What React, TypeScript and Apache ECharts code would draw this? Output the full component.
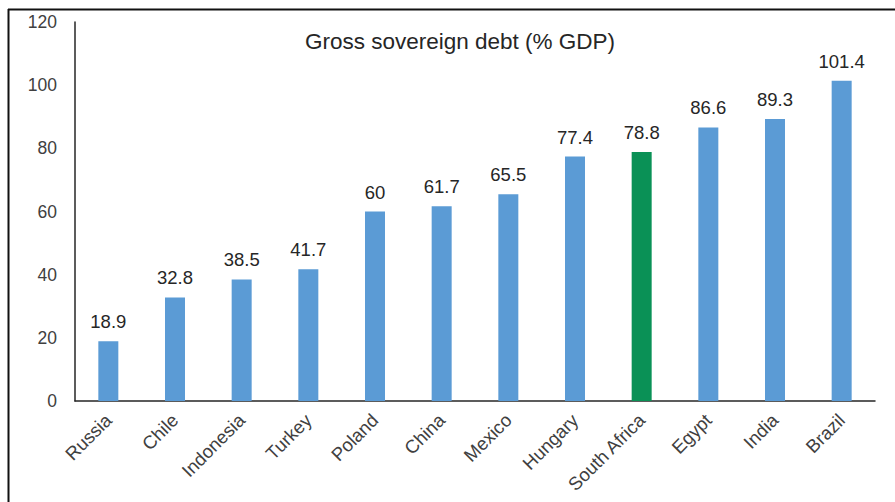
import React, { useEffect, useRef } from "react";
import * as echarts from "echarts";

const categories = ["Russia", "Chile", "Indonesia", "Turkey", "Poland", "China", "Mexico", "Hungary", "South Africa", "Egypt", "India", "Brazil"];
const debtValues = [18.9, 32.8, 38.5, 41.7, 60, 61.7, 65.5, 77.4, 78.8, 86.6, 89.3, 101.4];
const highlightCategory = "South Africa";
const titleText = "Gross sovereign debt (% GDP)";

const FONT = "'Liberation Sans', Arial, sans-serif";

export default function App() {
  const ref = useRef<HTMLDivElement>(null);
  useEffect(() => {
    if (!ref.current) return;
    const chart = echarts.init(ref.current, null, { renderer: "svg" });
    chart.setOption({
      animation: false,
      backgroundColor: "#ffffff",
      textStyle: { fontFamily: FONT },
      title: {
        text: titleText,
        left: 455,
        top: 25,
        textAlign: "center",
        textStyle: { fontFamily: FONT, fontSize: 22.5, fontWeight: "normal", color: "#262626" },
      },
      grid: { left: 75, right: 20, top: 22, bottom: 101, containLabel: false },
      xAxis: {
        type: "category",
        data: categories,
        axisLine: { show: true, lineStyle: { color: "#262626", width: 1.5 } },
        axisTick: { show: false },
        axisLabel: {
          rotate: 45,
          interval: 0,
          margin: 16,
          fontSize: 18.5,
          color: "#404040",
          fontFamily: FONT,
        },
      },
      yAxis: {
        type: "value",
        min: 0,
        max: 120,
        interval: 20,
        splitLine: { show: false },
        axisLine: { show: true, lineStyle: { color: "#262626", width: 1.5 } },
        axisTick: { show: false },
        axisLabel: { margin: 18, fontSize: 17.5, color: "#404040", fontFamily: FONT },
      },
      series: [
        {
          type: "bar",
          barWidth: 20,
          data: debtValues.map((v, i) => ({
            value: v,
            itemStyle: { color: categories[i] === highlightCategory ? "#0A9156" : "#5B9BD5" },
          })),
          label: {
            show: true,
            position: "top",
            distance: 10,
            fontSize: 18.5,
            color: "#262626",
            fontFamily: FONT,
          },
        },
      ],
      graphic: [
        { type: "line", shape: { x1: 8, y1: 9.5, x2: 895, y2: 9.5 }, style: { stroke: "#111", lineWidth: 2 } },
        { type: "line", shape: { x1: 8.5, y1: 9, x2: 8.5, y2: 502 }, style: { stroke: "#111", lineWidth: 2 } },
      ],
    });
    return () => chart.dispose();
  }, []);
  return <div ref={ref} style={{ position: "fixed", left: 0, top: 0, width: 895, height: 502 }} />;
}
